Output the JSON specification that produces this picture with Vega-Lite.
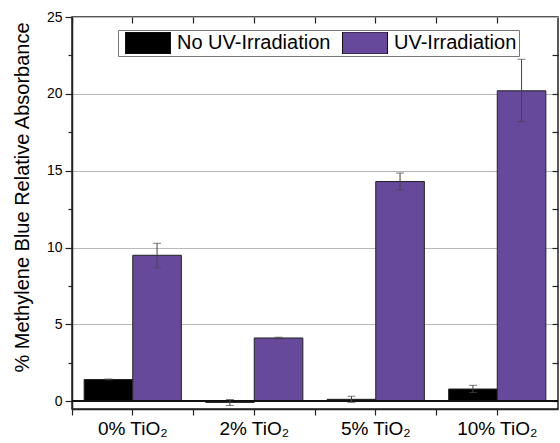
{
  "$schema": "https://vega.github.io/schema/vega-lite/v6.json",
  "width": 486,
  "height": 392,
  "autosize": {"type": "none"},
  "padding": {"left": 72, "top": 17, "right": 2, "bottom": 34},
  "background": "white",
  "config": {
    "font": "Liberation Sans",
    "view": {"stroke": "#222", "strokeWidth": 1.5},
    "axis": {
      "domainColor": "#222",
      "domainWidth": 1.5,
      "tickColor": "#222",
      "tickWidth": 1.2,
      "labelColor": "black",
      "titleColor": "black",
      "gridColor": "#b8b8b8",
      "gridWidth": 1
    }
  },
  "data": {
    "values": [
      {"sample": "0% TiO₂", "condition": "No UV-Irradiation", "value": 1.42, "lo": 1.39, "hi": 1.45},
      {"sample": "0% TiO₂", "condition": "UV-Irradiation", "value": 9.5, "lo": 8.68, "hi": 10.28},
      {"sample": "2% TiO₂", "condition": "No UV-Irradiation", "value": -0.07, "lo": -0.27, "hi": 0.12},
      {"sample": "2% TiO₂", "condition": "UV-Irradiation", "value": 4.12, "lo": 4.07, "hi": 4.17},
      {"sample": "5% TiO₂", "condition": "No UV-Irradiation", "value": 0.13, "lo": -0.07, "hi": 0.33},
      {"sample": "5% TiO₂", "condition": "UV-Irradiation", "value": 14.3, "lo": 13.75, "hi": 14.85},
      {"sample": "10% TiO₂", "condition": "No UV-Irradiation", "value": 0.8, "lo": 0.57, "hi": 1.04},
      {"sample": "10% TiO₂", "condition": "UV-Irradiation", "value": 20.2, "lo": 18.2, "hi": 22.25}
    ]
  },
  "resolve": {"axis": {"x": "independent", "y": "independent"}},
  "layer": [
    {
      "mark": {"type": "bar", "stroke": "#222", "strokeWidth": 1},
      "encoding": {
        "x": {
          "field": "sample",
          "type": "nominal",
          "scale": {"domain": ["0% TiO₂", "2% TiO₂", "5% TiO₂", "10% TiO₂"], "paddingInner": 0, "paddingOuter": 0},
          "axis": {
            "orient": "bottom",
            "title": null,
            "bandPosition": 0.5,
            "labelAngle": 0,
            "labelFontSize": 19,
            "labelPadding": 4,
            "tickSize": 6,
            "grid": false
          }
        },
        "xOffset": {
          "field": "condition",
          "type": "nominal",
          "scale": {"paddingInner": 0, "paddingOuter": 0.25}
        },
        "y": {
          "field": "value",
          "type": "quantitative",
          "scale": {"domain": [-0.5, 25], "nice": false, "zero": false},
          "axis": {
            "orient": "left",
            "values": [0, 5, 10, 15, 20, 25],
            "grid": true,
            "tickSize": 7,
            "labelFontSize": 14,
            "labelPadding": 3,
            "title": "% Methylene Blue Relative Absorbance",
            "titleFontSize": 20,
            "titleFontWeight": "normal",
            "titleAngle": -90,
            "titleAlign": "center",
            "titleBaseline": "alphabetic",
            "titleX": -44,
            "titleY": 180
          }
        },
        "color": {
          "field": "condition",
          "type": "nominal",
          "scale": {"domain": ["No UV-Irradiation", "UV-Irradiation"], "range": ["#000000", "#66499b"]},
          "legend": {
            "orient": "none",
            "legendX": 46,
            "legendY": 13,
            "direction": "horizontal",
            "title": null,
            "symbolType": "M-1,-0.49H1V0.49H-1Z",
            "symbolSize": 2025,
            "symbolStrokeColor": "#111",
            "symbolStrokeWidth": 1,
            "symbolOpacity": 1,
            "symbolOffset": 5,
            "clipHeight": 22,
            "labelFontSize": 20,
            "labelColor": "black",
            "labelOffset": 6,
            "columnPadding": 6,
            "padding": 2,
            "strokeColor": "#777",
            "fillColor": "white"
          }
        }
      }
    },
    {
      "mark": {"type": "rule", "color": "#111", "strokeWidth": 1.5},
      "encoding": {
        "y": {"datum": 0, "type": "quantitative", "axis": null}
      }
    },
    {
      "mark": {"type": "rule", "color": "#444", "strokeWidth": 1},
      "encoding": {
        "x": {
          "field": "sample",
          "type": "nominal",
          "axis": {"orient": "top", "title": null, "labels": false, "domain": false, "grid": false, "bandPosition": 0.5, "tickSize": -6}
        },
        "xOffset": {"field": "condition", "type": "nominal"},
        "y": {
          "field": "lo",
          "type": "quantitative",
          "axis": {"orient": "right", "title": null, "labels": false, "domain": false, "grid": false, "values": [0, 2.5, 5, 7.5, 10, 12.5, 15, 17.5, 20, 22.5], "tickSize": -6}
        },
        "y2": {"field": "hi"}
      }
    },
    {
      "mark": {"type": "tick", "color": "#444", "thickness": 1, "size": 8},
      "encoding": {
        "x": {
          "field": "sample",
          "type": "nominal",
          "axis": {"orient": "bottom", "title": null, "labels": false, "domain": false, "grid": false, "bandPosition": 0, "tickSize": 6}
        },
        "xOffset": {"field": "condition", "type": "nominal"},
        "y": {
          "field": "hi",
          "type": "quantitative",
          "axis": {"orient": "left", "title": null, "labels": false, "domain": false, "grid": false, "values": [2.5, 7.5, 12.5, 17.5, 22.5], "tickSize": 4}
        }
      }
    },
    {
      "mark": {"type": "tick", "color": "#444", "thickness": 1, "size": 8},
      "encoding": {
        "x": {
          "field": "sample",
          "type": "nominal",
          "axis": {"orient": "top", "title": null, "labels": false, "domain": false, "grid": false, "bandPosition": 0, "tickSize": -6}
        },
        "xOffset": {"field": "condition", "type": "nominal"},
        "y": {"field": "lo", "type": "quantitative", "axis": null}
      }
    }
  ]
}
